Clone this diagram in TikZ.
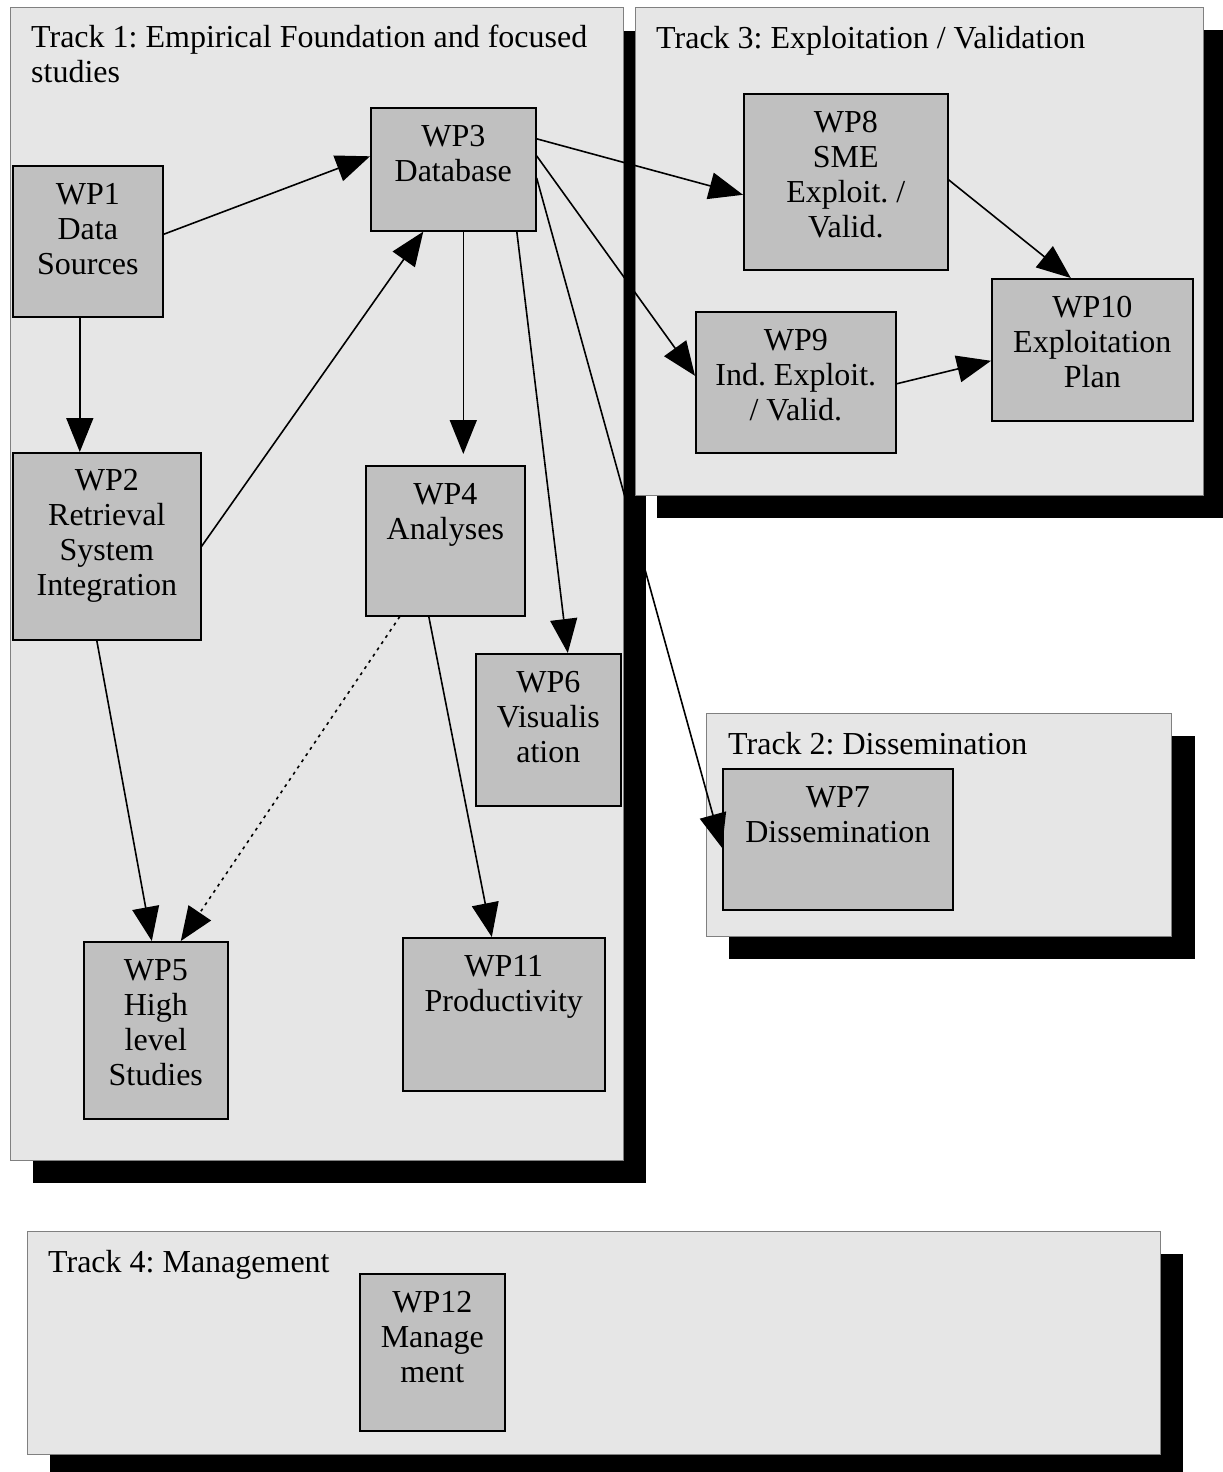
\documentclass[tikz,border=0pt]{standalone}
\usepackage{fontspec}
\setmainfont{Liberation Serif}
\usetikzlibrary{arrows.meta,calc}
\definecolor{trackfill}{HTML}{E6E6E6}
\definecolor{trackline}{HTML}{808080}
\definecolor{wpfill}{HTML}{C0C0C0}
\frenchspacing
\tikzset{
  trackbox/.style={draw=trackline,fill=trackfill,line width=1pt},
  shadowbox/.style={fill=black,draw=none},
  wpbox/.style={draw=black,fill=wpfill,line width=1.6pt,inner sep=0pt,anchor=north west,minimum width=#1},
  wpbox/.default=100pt,
  wptext/.style={inner sep=0pt,anchor=north,align=center,font=\fontsize{32}{35}\selectfont\frenchspacing,execute at begin node={\rule{0pt}{24pt}}},
  ttl/.style={inner sep=0pt,anchor=north west,align=left,font=\fontsize{32}{35}\selectfont\frenchspacing,execute at begin node={\rule{0pt}{24pt}}},
  conn/.style={line width=1.6pt,-{Triangle[length=34pt,width=27pt]}},
  dotconn/.style={conn,dash pattern=on 3pt off 4.5pt}
}
\begin{document}
\begin{tikzpicture}[x=1pt,y=-1pt]
\useasboundingbox (0,0) rectangle (1223,1472);
\fill[white] (0,0) rectangle (1223,1472);
% Track 1
\fill[shadowbox] (33,31) rectangle (646,1183);
\draw[trackbox] (10,8) rectangle (623,1160);
\node[ttl] (t1title) at (31,25) {Track 1: Empirical Foundation and focused\\studies};
% Track 3
\fill[shadowbox] (657,30) rectangle (1223,518);
\draw[trackbox] (635,8) rectangle (1203,495);
\node[ttl] (t3title) at (656,24) {Track 3: Exploitation / Validation};
% Track 2
\fill[shadowbox] (729,736) rectangle (1195,959);
\draw[trackbox] (706,713) rectangle (1171,936);
\node[ttl] (t2title) at (728,730) {Track 2: Dissemination};
% Track 4
\fill[shadowbox] (50,1254) rectangle (1183,1472);
\draw[trackbox] (27,1231) rectangle (1160,1454);
\node[ttl] (t4title) at (48,1248) {Track 4: Management};

% WP boxes
\node[wpbox=150pt,minimum height=151pt] (wp1) at (12,165) {};
\node[wpbox=188pt,minimum height=187pt] (wp2) at (12,452) {};
\node[wpbox=165pt,minimum height=123pt] (wp3) at (370,107) {};
\node[wpbox=159pt,minimum height=150pt] (wp4) at (365,465) {};
\node[wpbox=144pt,minimum height=177pt] (wp5) at (83,941) {};
\node[wpbox=145pt,minimum height=152pt] (wp6) at (475,653) {};
\node[wpbox=230pt,minimum height=141pt] (wp7) at (722,768) {};
\node[wpbox=204pt,minimum height=176pt] (wp8) at (743,93) {};
\node[wpbox=200pt,minimum height=141pt] (wp9) at (695,311) {};
\node[wpbox=201pt,minimum height=142pt] (wp10) at (991,278) {};
\node[wpbox=202pt,minimum height=153pt] (wp11) at (402,937) {};
\node[wpbox=145pt,minimum height=157pt] (wp12) at (359,1273) {};

% WP texts
\node[wptext] (wp1t) at ([yshift=-18pt]wp1.north) {WP1\\Data\\Sources};
\node[wptext] (wp2t) at ([yshift=-17pt]wp2.north) {WP2\\Retrieval\\System\\Integration};
\node[wptext] (wp3t) at ([yshift=-18pt]wp3.north) {WP3\\Database};
\node[wptext] (wp4t) at ([yshift=-18pt]wp4.north) {WP4\\Analyses};
\node[wptext] (wp5t) at ([yshift=-18pt]wp5.north) {WP5\\High\\level\\Studies};
\node[wptext] (wp6t) at ([yshift=-18pt]wp6.north) {WP6\\Visualis\\ation};
\node[wptext] (wp7t) at ([yshift=-18pt]wp7.north) {WP7\\Dissemination};
\node[wptext] (wp8t) at ([yshift=-18pt]wp8.north) {WP8\\SME\\Exploit. /\\Valid.};
\node[wptext] (wp9t) at ([yshift=-18pt]wp9.north) {WP9\\Ind. Exploit.\\/ Valid.};
\node[wptext] (wp10t) at ([yshift=-18pt]wp10.north) {WP10\\Exploitation\\Plan};
\node[wptext] (wp11t) at ([yshift=-18pt]wp11.north) {WP11\\Productivity};
\node[wptext] (wp12t) at ([yshift=-18pt]wp12.north) {WP12\\Manage\\ment};

% Connectors
\draw[conn] ([yshift=7pt]wp1.east) -- ([yshift=13pt]wp3.west);
\draw[conn] (wp2.east) -- ([xshift=-30pt]wp3.south);
\draw[conn] ([xshift=-8pt]wp1.south) -- ([xshift=-8pt]wp1.south |- wp2.north);
\draw[conn,shorten >=11pt] ([xshift=10pt]wp3.south) -- ([xshift=10pt]wp3.south |- wp4.north);
\draw[conn] ([xshift=63.5pt]wp3.south) -- ([xshift=19.5pt]wp6.north);
\draw[conn] ([yshift=13.5pt]wp3.east) -- ([yshift=6.5pt]wp9.west);
\draw[conn] ([yshift=-8.5pt]wp3.east) -- ([yshift=-8.5pt]wp7.west);
\draw[conn] ([yshift=30.5pt]wp3.east) -- ([yshift=-13pt]wp8.west);
\draw[conn] ([yshift=2pt]wp8.east) -- ([xshift=-21.5pt]wp10.north);
\draw[conn] ([yshift=-1.5pt]wp9.east) -- ([yshift=-11pt]wp10.west);
\draw[conn] ([xshift=-10pt]wp2.south) -- ([xshift=-4pt]wp5.north);
\draw[dotconn] ([xshift=-45.5pt]wp4.south) -- ([xshift=25pt]wp5.north);
\draw[conn] ([xshift=-16.5pt]wp4.south) -- ([xshift=-12pt]wp11.north);
\end{tikzpicture}
\end{document}
